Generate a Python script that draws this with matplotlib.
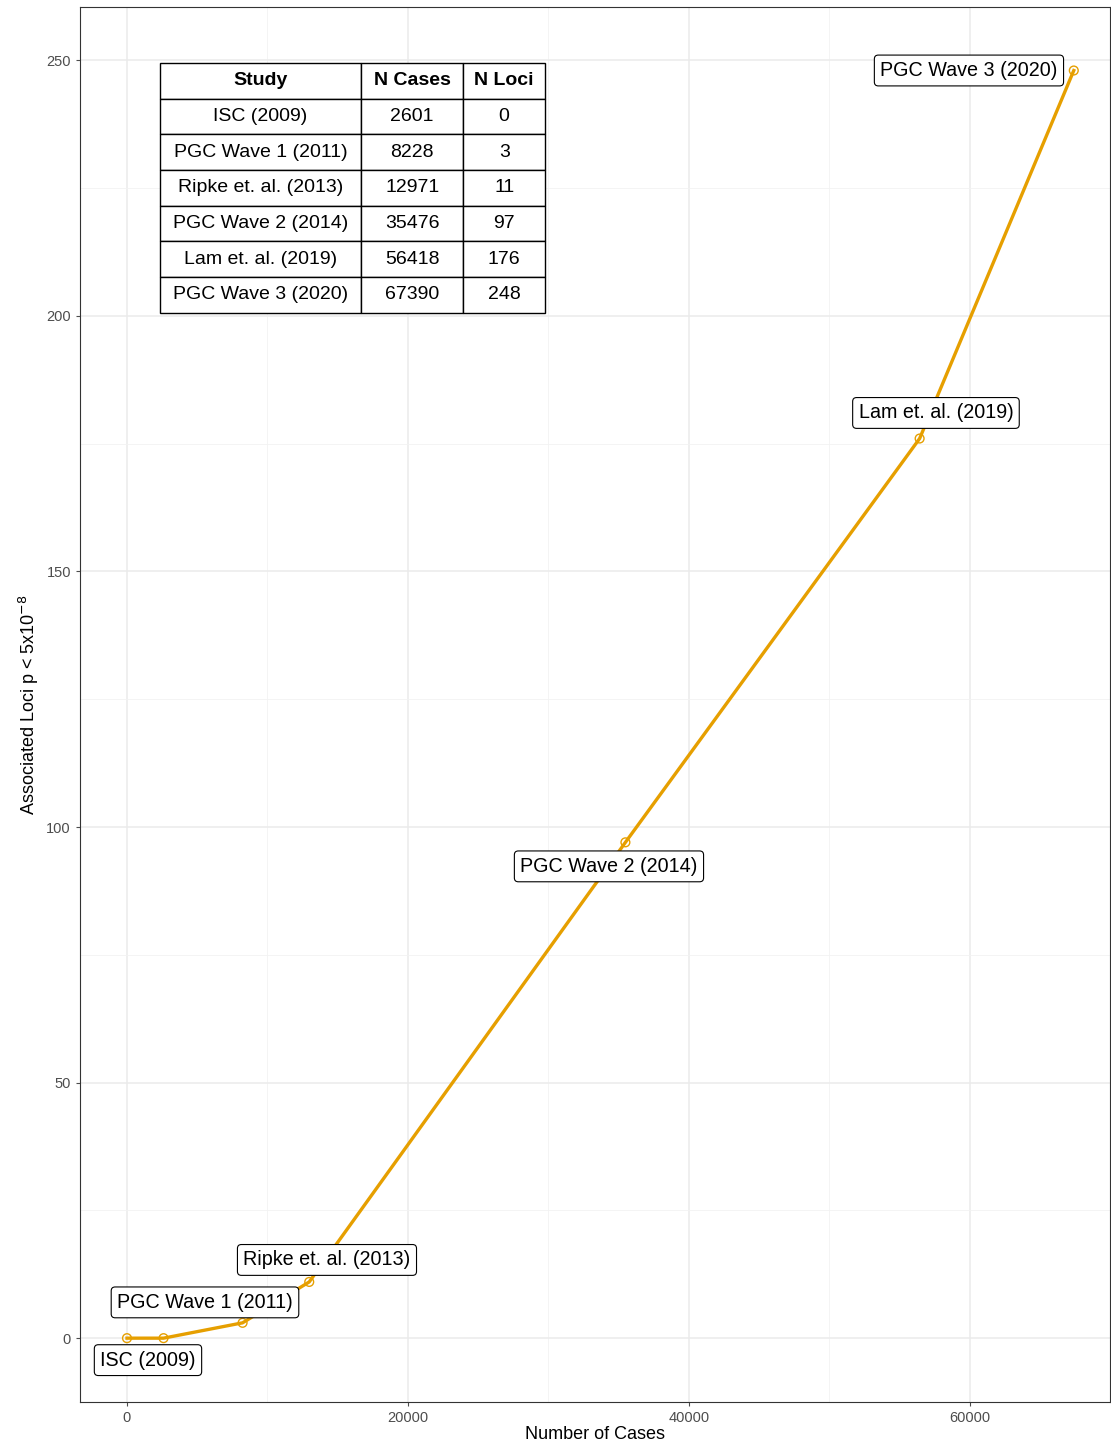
import matplotlib
matplotlib.use('Agg')
import matplotlib.pyplot as plt

plt.rcParams['font.family'] = ['Liberation Sans', 'DejaVu Sans']

studies = ['ISC (2009)', 'PGC Wave 1 (2011)', 'Ripke et. al. (2013)',
           'PGC Wave 2 (2014)', 'Lam et. al. (2019)', 'PGC Wave 3 (2020)']
n_cases = [2601, 8228, 12971, 35476, 56418, 67390]
n_loci = [0, 3, 11, 97, 176, 248]
# curve starts from the origin
line_x = [0] + n_cases
line_y = [0] + n_loci
# label anchor positions (data coords)
label_x = [1495, 5552, 14235, 34306, 57580, 59929]
label_y = [-4.3, 7.0, 15.3, 92.3, 181.0, 248.0]

fig = plt.figure(figsize=(11.11, 14.52), dpi=100)
ax = fig.add_axes([0.072, 0.0344, 0.927, 0.9607])
col = '#E69F00'
ax.plot(line_x, line_y, color=col, lw=2.4, zorder=3)
ax.scatter(line_x, line_y, s=40, facecolors='none', edgecolors=col, linewidths=1, zorder=4)

for s, x, y in zip(studies, label_x, label_y):
    ax.text(x, y, s, ha='center', va='center', fontsize=14.2, zorder=5,
            bbox=dict(boxstyle='round,pad=0.3,rounding_size=0.2', fc='white', ec='black', lw=0.8))

ax.set_xlim(-3345, 69960)
ax.set_ylim(-12.5, 260.4)
ax.set_xticks([0, 20000, 40000, 60000])
ax.set_xticks([10000, 30000, 50000], minor=True)
ax.set_yticks([0, 50, 100, 150, 200, 250])
ax.set_yticks([25, 75, 125, 175, 225], minor=True)
ax.grid(which='major', color='#EBEBEB', lw=1.1)
ax.grid(which='minor', color='#F2F2F2', lw=0.6)
ax.set_axisbelow(True)
ax.tick_params(which='major', labelsize=10.5, colors='#4D4D4D', length=3)
ax.tick_params(which='minor', length=0)
for sp in ax.spines.values():
    sp.set_color('#333333')
    sp.set_linewidth(0.8)
ax.set_xlabel('Number of Cases', fontsize=13, labelpad=1)
ax.set_ylabel(r'Associated Loci p < 5x10$^{-8}$', fontsize=13, labelpad=4)

cells = [[s, str(c), str(l)] for s, c, l in zip(studies, n_cases, n_loci)]
tb = ax.table(cellText=cells, colLabels=['Study', 'N Cases', 'N Loci'],
              cellLoc='center', bbox=[0.0777, 0.781, 0.374, 0.179],
              colWidths=[201, 102, 82])
tb.auto_set_font_size(False)
tb.set_fontsize(14)
for (r, c), cell in tb.get_celld().items():
    cell.set_linewidth(1)
    if r == 0:
        cell.set_text_props(weight='bold')
tb.set_zorder(6)

plt.savefig('out.png')
plt.close()
